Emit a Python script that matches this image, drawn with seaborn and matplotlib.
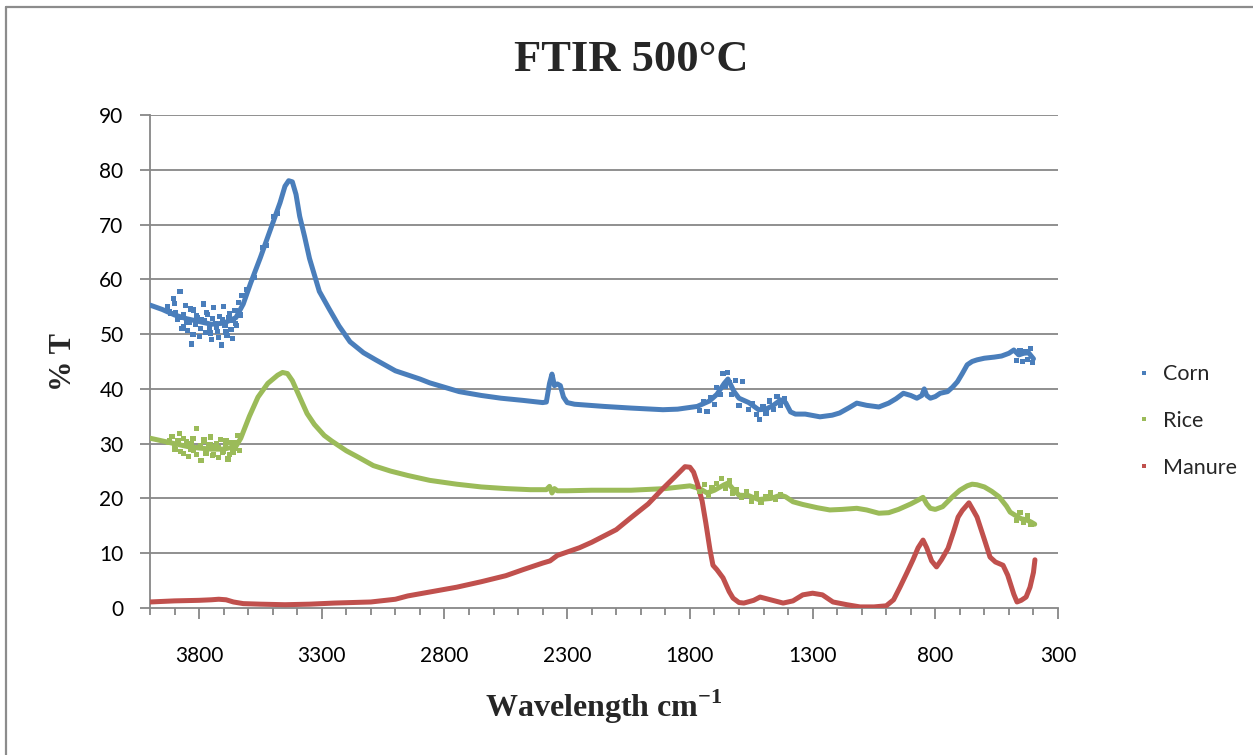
import numpy as np
import pandas as pd
import matplotlib
matplotlib.use("Agg")
import matplotlib.pyplot as plt
from matplotlib.lines import Line2D
from matplotlib.ticker import FixedLocator
import seaborn as sns

# ---------------- data ----------------
series_names = ["Corn", "Rice", "Manure"]
series_colors = ["#4A7EBB", "#9BBB59", "#C0504D"]

corn_wn = [4000, 3950, 3900, 3850, 3800, 3750, 3700, 3650, 3620, 3590, 3550, 3510, 3470, 3450,
           3435, 3420, 3405, 3390, 3370, 3350, 3310, 3270, 3230, 3185, 3130, 3080, 3000, 2900,
           2860, 2740, 2650, 2570, 2480, 2400, 2385, 2372, 2362, 2352, 2340, 2328, 2315, 2300,
           2270, 2150, 2040, 1910, 1850, 1770, 1720, 1690, 1660, 1645, 1620, 1600, 1560, 1520,
           1490, 1460, 1430, 1410, 1390, 1370, 1330, 1270, 1220, 1190, 1150, 1120, 1080, 1030,
           990, 960, 930, 900, 875, 855, 845, 835, 820, 800, 780, 750, 730, 710, 690, 670, 650,
           630, 600, 560, 530, 500, 480, 460, 440, 420, 400]
corn_t = [55.3, 54.5, 53.5, 52.8, 52.3, 51.8, 52.0, 53.0, 55.5, 59.3, 64.0, 69.0, 74.0, 77.0,
          78.0, 77.8, 75.5, 71.5, 67.8, 63.8, 57.8, 54.6, 51.5, 48.6, 46.6, 45.3, 43.3, 41.8,
          41.1, 39.5, 38.8, 38.3, 37.9, 37.5, 37.6, 41.0, 42.7, 40.6, 40.9, 40.6, 38.5, 37.5,
          37.2, 36.8, 36.5, 36.2, 36.3, 36.8, 37.8, 39.0, 41.0, 41.8, 39.5, 38.3, 37.5, 36.2,
          36.3, 37.0, 38.0, 37.5, 35.8, 35.4, 35.4, 34.9, 35.2, 35.6, 36.6, 37.4, 37.0, 36.7,
          37.4, 38.2, 39.2, 38.8, 38.3, 38.8, 40.0, 38.8, 38.3, 38.6, 39.2, 39.5, 40.3, 41.3,
          42.8, 44.4, 45.0, 45.3, 45.6, 45.8, 46.0, 46.5, 47.1, 46.2, 46.5, 46.6, 45.5]

rice_wn = [4000, 3950, 3900, 3850, 3800, 3750, 3700, 3650, 3630, 3595, 3560, 3520, 3480, 3460,
           3440, 3420, 3390, 3360, 3330, 3290, 3260, 3200, 3150, 3090, 3020, 2950, 2860, 2750,
           2650, 2550, 2450, 2385, 2372, 2362, 2352, 2340, 2300, 2200, 2040, 1900, 1800, 1760,
           1730, 1700, 1660, 1645, 1620, 1600, 1560, 1520, 1470, 1430, 1410, 1380, 1340, 1280,
           1230, 1180, 1120, 1080, 1030, 990, 950, 900, 870, 850, 835, 820, 800, 770, 730, 700,
           670, 650, 630, 600, 570, 540, 510, 495, 470, 450, 430, 410, 395]
rice_t = [31.0, 30.5, 30.0, 29.5, 29.2, 29.0, 29.0, 29.5, 31.0, 35.0, 38.5, 41.0, 42.5, 43.0,
          42.8, 41.5, 38.5, 35.5, 33.5, 31.5, 30.5, 28.7, 27.5, 26.0, 25.0, 24.2, 23.3, 22.6,
          22.1, 21.8, 21.6, 21.6, 22.2, 21.0, 21.8, 21.4, 21.4, 21.5, 21.5, 21.8, 22.3, 21.8,
          21.0, 21.5, 22.5, 22.8, 21.5, 20.6, 20.5, 19.8, 20.0, 20.6, 20.3, 19.4, 18.9, 18.3,
          17.9, 18.0, 18.2, 17.9, 17.3, 17.4, 18.0, 19.0, 19.7, 20.2, 19.0, 18.2, 18.0, 18.5,
          20.3, 21.5, 22.3, 22.6, 22.5, 22.1, 21.3, 20.3, 18.6, 17.5, 16.8, 16.3, 16.1, 15.7, 15.3]

manure_wn = [4000, 3900, 3800, 3750, 3720, 3690, 3660, 3620, 3550, 3450, 3350, 3250, 3100, 3000,
             2950, 2850, 2750, 2650, 2550, 2480, 2400, 2370, 2340, 2250, 2200, 2100, 2040, 1970,
             1910, 1860, 1820, 1800, 1785, 1770, 1750, 1735, 1718, 1706, 1690, 1665, 1640, 1624,
             1600, 1580, 1540, 1514, 1480, 1420, 1380, 1340, 1300, 1260, 1217, 1160, 1107, 1050,
             1000, 970, 944, 915, 891, 870, 850, 835, 815, 795, 775, 748, 725, 707, 690, 663, 645,
             630, 600, 577, 555, 524, 505, 495, 480, 467, 450, 430, 414, 400, 394]
manure_t = [1.1, 1.3, 1.4, 1.5, 1.6, 1.5, 1.1, 0.8, 0.7, 0.6, 0.7, 0.9, 1.1, 1.6,
            2.2, 3.0, 3.8, 4.8, 5.9, 7.0, 8.2, 8.6, 9.6, 11.0, 12.0, 14.3, 16.5, 19.0,
            21.8, 24.0, 25.8, 25.7, 24.8, 22.8, 19.5, 15.5, 10.6, 7.8, 7.0, 5.5, 3.0, 1.8,
            1.0, 0.9, 1.4, 2.0, 1.6, 0.9, 1.3, 2.4, 2.7, 2.4, 1.1, 0.6, 0.2, 0.2,
            0.4, 1.5, 3.8, 6.5, 8.8, 11.0, 12.4, 11.0, 8.6, 7.5, 8.8, 10.9, 14.0, 16.6, 17.8, 19.2, 17.8,
            16.6, 12.5, 9.3, 8.4, 7.8, 6.0, 4.6, 2.5, 1.1, 1.4, 2.0, 3.8, 6.5, 8.8]

# scattered (noisy) readings
corn_noise_wn = [3930, 3915, 3905, 3895, 3888, 3878, 3870, 3862, 3855, 3846,
                 3838, 3830, 3822, 3815, 3806, 3798, 3790, 3782, 3775, 3766,
                 3758, 3750, 3742, 3734, 3726, 3718, 3710, 3702, 3694, 3686,
                 3678, 3670, 3662, 3654, 3646, 3640, 3633, 3625,
                 3920, 3900, 3880, 3865, 3850, 3835, 3825, 3810, 3795, 3780,
                 3770, 3755, 3745, 3730, 3720, 3705, 3690, 3675, 3665, 3650,
                 3605, 3575, 3540, 3525, 3495, 3480,
                 1760, 1745, 1730, 1715, 1700, 1690, 1675, 1665, 1655, 1648,
                 1640, 1630, 1615, 1600, 1585, 1560, 1545, 1530, 1515, 1502,
                 1490, 1475, 1460, 1445, 1430, 1415,
                 470, 455, 445, 432, 425, 412, 405]
corn_noise_t = [55.0, 53.8, 56.5, 54.0, 52.6, 57.8, 51.0, 53.5, 55.2, 50.6,
                52.2, 48.2, 54.4, 51.8, 53.0, 49.5, 52.7, 55.5, 50.3, 53.6,
                51.2, 49.0, 54.8, 52.0, 50.5, 53.2, 48.0, 55.0, 51.5, 49.7,
                53.0, 50.8, 52.5, 54.3, 51.6, 55.8, 53.5, 57.0,
                54.2, 55.6, 53.0, 51.4, 52.2, 54.6, 50.0, 53.4, 51.0, 52.4,
                54.0, 50.2, 52.8, 51.2, 49.4, 52.6, 50.4, 53.8, 49.2, 52.0,
                58.2, 60.4, 65.8, 66.2, 71.5, 72.0,
                36.0, 37.6, 35.8, 38.5, 37.2, 40.2, 39.0, 42.8, 40.5, 43.0,
                41.2, 39.0, 41.5, 37.0, 41.3, 36.2, 37.4, 35.3, 34.4, 36.8,
                35.6, 37.8, 36.3, 38.6, 37.0, 38.2,
                45.2, 47.0, 45.0, 46.8, 45.4, 47.3, 44.8]

rice_noise_wn = [3925, 3910, 3898, 3886, 3875, 3864, 3852, 3842, 3832, 3822,
                 3812, 3802, 3792, 3782, 3772, 3762, 3752, 3742, 3732, 3722,
                 3712, 3702, 3692, 3682, 3672, 3662, 3652, 3644, 3636,
                 3920, 3900, 3880, 3865, 3850, 3835, 3825, 3810, 3795, 3780,
                 3770, 3755, 3745, 3730, 3720, 3705, 3690, 3675, 3665, 3650,
                 1760, 1740, 1725, 1710, 1690, 1670, 1655, 1640, 1625, 1610,
                 1590, 1570, 1550, 1530, 1510, 1490, 1470, 1450, 1430,
                 470, 455, 440, 425, 410]
rice_noise_t = [30.2, 31.3, 29.0, 30.6, 28.5, 31.0, 29.6, 27.6, 30.0, 28.8,
                32.8, 29.3, 27.0, 30.4, 28.2, 29.8, 31.2, 28.0, 29.5, 27.5,
                30.8, 28.6, 29.9, 27.2, 30.2, 28.4, 29.1, 31.5, 28.8,
                30.6, 29.4, 31.8, 28.2, 30.4, 29.0, 31.0, 28.0, 29.6, 30.8,
                28.4, 29.8, 27.8, 30.0, 29.2, 28.4, 30.6, 28.0, 29.4, 30.2,
                21.2, 22.5, 20.6, 21.9, 22.8, 23.6, 21.8, 23.2, 21.0, 21.6,
                20.2, 21.2, 19.5, 20.8, 19.3, 20.4, 21.0, 19.8, 20.7,
                16.0, 17.4, 15.6, 16.8, 15.3]

x_major_ticks = [3800, 3300, 2800, 2300, 1800, 1300, 800, 300]
y_ticks = [0, 10, 20, 30, 40, 50, 60, 70, 80, 90]

# ---------------- build frames ----------------
lines_df = pd.concat([
    pd.DataFrame({"wn": corn_wn, "T": corn_t, "series": "Corn"}),
    pd.DataFrame({"wn": rice_wn, "T": rice_t, "series": "Rice"}),
    pd.DataFrame({"wn": manure_wn, "T": manure_t, "series": "Manure"}),
], ignore_index=True)
noise_df = pd.concat([
    pd.DataFrame({"wn": corn_noise_wn, "T": corn_noise_t, "series": "Corn"}),
    pd.DataFrame({"wn": rice_noise_wn, "T": rice_noise_t, "series": "Rice"}),
], ignore_index=True)
palette = dict(zip(series_names, series_colors))

# ---------------- figure ----------------
sns.set_theme(style="white")
plt.rcParams["font.family"] = ["Lato", "DejaVu Sans"]
plt.rcParams["mathtext.fontset"] = "custom"
plt.rcParams["mathtext.rm"] = "Liberation Serif"
plt.rcParams["mathtext.bf"] = "Liberation Serif:bold"

fig = plt.figure(figsize=(12.53, 7.55), dpi=100)
ax = fig.add_axes([150 / 1253, 1 - 608 / 755, (1058 - 150) / 1253, (608 - 115) / 755])

grid_c = "#878787"
for yv in y_ticks[1:]:
    ax.axhline(yv, color=grid_c, lw=1.3, zorder=0)

sns.lineplot(data=lines_df, x="wn", y="T", hue="series", palette=palette, sort=False,
             estimator=None, lw=3.6, legend=False, ax=ax, zorder=3)
sns.scatterplot(data=noise_df, x="wn", y="T", hue="series", palette=palette, marker="s",
                s=14, linewidth=0, legend=False, ax=ax, zorder=4)

ax.set_xlim(4000, 300)
ax.set_ylim(0, 90)
ax.xaxis.set_major_locator(FixedLocator(x_major_ticks))
ax.xaxis.set_minor_locator(FixedLocator(list(range(4000, 299, -100))))
ax.set_yticks(y_ticks)
ax.set_xlabel("")
ax.set_ylabel("")

for s in ["top", "right"]:
    ax.spines[s].set_visible(False)
for s in ["left", "bottom"]:
    ax.spines[s].set_color(grid_c)
    ax.spines[s].set_linewidth(1.3)

ax.tick_params(axis="x", which="major", direction="out", length=8, width=1.3, color=grid_c,
               pad=19, labelsize=15, labelcolor="black", bottom=True)
ax.tick_params(axis="x", which="minor", direction="out", length=5, width=1.3, color=grid_c,
               bottom=True)
ax.tick_params(axis="y", which="major", direction="out", length=7, width=1.3, color=grid_c,
               pad=12, labelsize=15, labelcolor="black", left=True)

# titles
fig.text(0.504, 0.921, "FTIR 500°C", ha="center", va="center", fontsize=32,
         fontweight="bold", family="Liberation Serif")
fig.text(0.051, 0.521, "% T", ha="center", va="center", rotation=90, fontsize=22,
         fontweight="bold", family="Liberation Serif")
fig.text(0.482, 0.064, r"Wavelength cm$^{\mathbf{-1}}$", ha="center", va="center", fontsize=23,
         fontweight="bold", family="Liberation Serif")

# legend
handles = [Line2D([], [], ls="none", marker="s", markersize=3.5, markeredgewidth=0,
                  color=c) for c in series_colors]
fig.legend(handles, series_names, loc="center left", bbox_to_anchor=(1118 / 1253, 1 - 421 / 755),
           frameon=False, fontsize=15.5, handlelength=0.6, handletextpad=0.6, labelspacing=1.25)

# outer chart border (left and top visible)
border_c = "#8c8c8c"
fig.add_artist(Line2D([6 / 1253, 6 / 1253], [0, 1 - 7 / 755], color=border_c, lw=1.6,
                      transform=fig.transFigure))
fig.add_artist(Line2D([6 / 1253, 1], [1 - 7 / 755, 1 - 7 / 755], color=border_c, lw=1.6,
                      transform=fig.transFigure))

fig.savefig("out.png", dpi=100, facecolor="white")
